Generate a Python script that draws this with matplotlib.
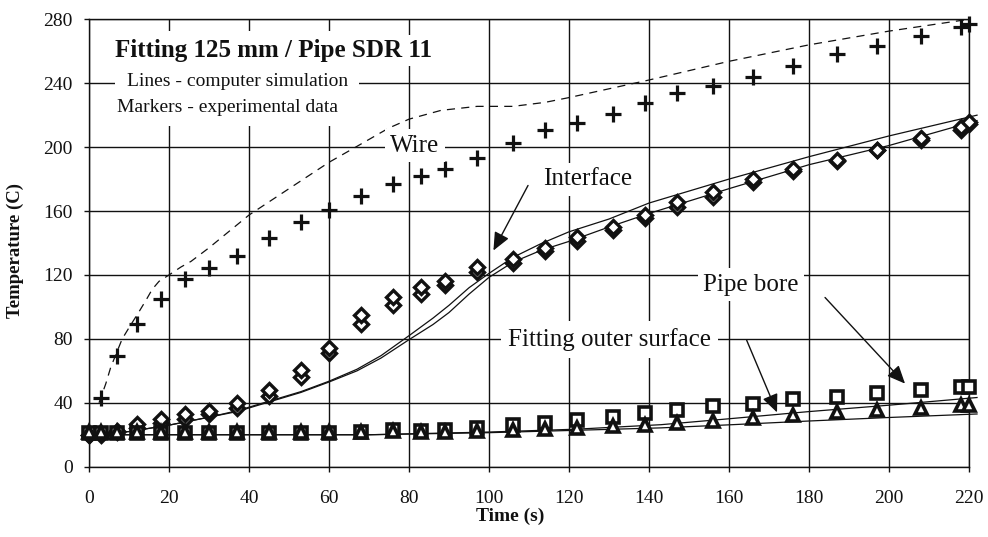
import matplotlib
matplotlib.use("Agg")
import matplotlib.pyplot as plt
from matplotlib.patches import Rectangle

# ---------------- data ----------------
times_exp = [0, 3, 7, 12, 18, 24, 30, 37, 45, 53, 60, 68, 76, 83, 89, 97,
             106, 114, 122, 131, 139, 147, 156, 166, 176, 187, 197, 208, 218, 220]

wire_exp_time = times_exp[1:]
wire_exp = [43, 69, 89.5, 104.8, 117.5, 124.6, 131.6, 143.4, 153.3, 160.6, 169.5,
            177, 182, 186, 193.3, 202.5, 211, 215, 221, 227.8, 234, 238.5, 243.6,
            251, 258, 263, 269.5, 275, 276.8]

interface_exp_a = [20, 20.5, 22.5, 26.5, 29.6, 32.7, 35, 40, 48.3, 60.5, 74, 95,
                   106.5, 112.5, 116.5, 125, 130, 137, 143.6, 150.3, 157.8, 165.5,
                   171.8, 180, 186, 192, 198.5, 205.5, 212.5, 215.6]
interface_exp_b = [20, 20, 21.5, 24.5, 27.5, 30, 32.7, 36.9, 44.5, 56.4, 71, 89.5,
                   101.5, 107.8, 114, 122, 127.5, 135, 141.5, 148, 155.5, 162.5,
                   169, 178, 185, 191, 198, 204.5, 210.5, 214.5]

pipe_exp = [21, 21, 21, 21, 21, 21, 21, 21, 21, 21, 21.2, 21.5, 23, 22.6, 23, 24,
            25.9, 27.5, 29.2, 31.4, 33.5, 35.6, 37.9, 39.5, 42.3, 43.9, 46, 47.7, 50, 50]
fitting_exp = [21.5, 21.5, 21.5, 21.5, 21.5, 21.5, 21.5, 21.5, 21.5, 21.5, 21.5, 21.8,
               22.6, 22, 22, 22.2, 22.8, 23.4, 24.4, 25.6, 26, 27.4, 28.5, 30.3, 32.6,
               34.1, 35.3, 36.6, 38.5, 38.5]

interface_sim_time = [0, 10, 20, 30, 37, 45, 53, 60, 67, 73, 80, 86, 90, 95, 100,
                      106, 113, 120, 130, 140, 160, 180, 200, 222]
interface_sim_a = [20, 22, 26, 31, 35, 41, 47, 53.5, 61, 69.5, 82, 93, 101, 112, 121,
                   131, 139.6, 147, 155, 165, 180, 194, 207, 220]
interface_sim_b = [20, 22, 26, 31, 34.5, 40.5, 46.5, 53, 60, 68, 79.5, 89, 96.5, 108,
                   118.5, 128, 135.4, 141, 150, 158.5, 174, 189, 201, 216.6]

wire_sim_time = [2.5, 4.2, 5.4, 7, 8.3, 10, 12.5, 14.2, 15.8, 17.5, 20, 23, 25.5, 30,
                 40, 50, 60, 67, 75, 80, 88, 97, 106, 114, 120, 140, 160, 180, 200, 220]
wire_sim = [40, 52, 62, 72, 80, 87, 97, 104, 111, 116, 120, 125, 128.5, 137, 157.5,
            174, 190.5, 200.5, 212, 217.5, 223, 225.5, 225.5, 228, 231, 242, 253.7,
            264, 272.6, 280]

pipe_sim_time = [0, 40, 70, 100, 122, 143, 160, 180, 200, 222]
pipe_sim = [20, 20, 20, 21.7, 23.5, 26.3, 30, 34.5, 38.5, 43.3]
fitting_sim = [20, 20, 20, 21.3, 22.8, 24.3, 26.2, 28.6, 30.8, 33]

x_ticks = list(range(0, 221, 20))
y_ticks = list(range(0, 281, 40))

# ---------------- figure ----------------
plt.rcParams['font.family'] = ['Liberation Serif', 'DejaVu Serif']
INK = '#111111'

fig = plt.figure(figsize=(9.88, 5.37), dpi=100)
ax = fig.add_axes([0.0901, 0.1309, 0.8907, 0.8332])
ax.set_xlim(0, 220)
ax.set_ylim(0, 280)
ax.set_xticks(x_ticks)
ax.set_yticks(y_ticks)
ax.set_axisbelow(True)
ax.grid(True, color=INK, lw=1.0)
for s in ax.spines.values():
    s.set_color(INK)
    s.set_linewidth(1.0)
ax.tick_params(axis='both', direction='out', length=3.6, width=1.0, colors=INK,
               labelsize=14)
ax.tick_params(axis='x', pad=13)
ax.tick_params(axis='y', pad=8)

# simulation lines
ax.plot(wire_sim_time, wire_sim, color=INK, lw=0.9, dashes=(6.5, 5), zorder=2,
        clip_on=False)
ax.plot(interface_sim_time, interface_sim_a, color=INK, lw=0.9, zorder=2, clip_on=False)
ax.plot(interface_sim_time, interface_sim_b, color=INK, lw=0.9, zorder=2, clip_on=False)
ax.plot(pipe_sim_time, pipe_sim, color=INK, lw=0.9, zorder=2, clip_on=False)
ax.plot(pipe_sim_time, fitting_sim, color=INK, lw=0.9, zorder=2, clip_on=False)

# experimental markers
ax.plot(wire_exp_time, wire_exp, ls='none', marker='+', ms=11, mew=2.3, color=INK,
        zorder=3, clip_on=False)
ax.plot(times_exp, interface_exp_b, ls='none', marker='D', ms=7, mew=2.4, mfc='white',
        mec=INK, zorder=3, clip_on=False)
ax.plot(times_exp, interface_exp_a, ls='none', marker='D', ms=7, mew=2.4, mfc='white',
        mec=INK, zorder=3, clip_on=False)
ax.plot(times_exp, pipe_exp, ls='none', marker='s', ms=8.5, mew=2.6, mfc='white',
        mec=INK, zorder=3, clip_on=False)
ax.plot(times_exp, fitting_exp, ls='none', marker='^', ms=8, mew=2.6, mfc='white',
        mec=INK, zorder=3.1, clip_on=False)

# white block behind header notes
ax.add_patch(Rectangle((6.5, 213.5), 61, 59, facecolor='white', edgecolor='none',
                       zorder=1.5))

wbox = dict(facecolor='white', edgecolor='none', pad=3)
ax.text(6.5, 256.3, 'Fitting 125 mm / Pipe SDR 11', fontsize=18, fontweight='bold',
        ha='left', va='baseline', color=INK, zorder=5, bbox=wbox)
ax.text(9.5, 238.4, 'Lines - computer simulation', fontsize=14, ha='left',
        va='baseline', color=INK, zorder=5,
        bbox=dict(facecolor='white', edgecolor='none', pad=5))
ax.text(7, 221.7, 'Markers - experimental data', fontsize=14, ha='left',
        va='baseline', color=INK, zorder=5)

lbox = dict(facecolor='white', edgecolor='none', pad=4)
ax.text(75.25, 197, 'Wire', fontsize=18, ha='left', va='baseline', color=INK,
        zorder=5, bbox=lbox)
ax.text(113.5, 176, 'Interface', fontsize=18, ha='left', va='baseline', color=INK,
        zorder=5, bbox=lbox)
ax.text(153.5, 110, 'Pipe bore', fontsize=18, ha='left', va='baseline', color=INK,
        zorder=5, bbox=lbox)
ax.text(104.75, 75.6, 'Fitting outer surface', fontsize=18, ha='left', va='baseline',
        color=INK, zorder=5, bbox=dict(facecolor='white', edgecolor='none', pad=5))

arrow = dict(arrowstyle='-|>,head_length=0.5,head_width=0.22', color=INK, lw=1.0,
             mutation_scale=22, shrinkA=0, shrinkB=0)
ax.annotate('', xy=(101.1, 135.3), xytext=(109.75, 176), arrowprops=arrow, zorder=6)
ax.annotate('', xy=(204, 52), xytext=(184, 105.9), arrowprops=arrow, zorder=6)
ax.annotate('', xy=(172, 34), xytext=(164.4, 79.2), arrowprops=arrow, zorder=6)

fig.text(510 / 988, 1 - 521 / 537, 'Time (s)', fontsize=14, fontweight='bold',
         ha='center', va='baseline', color=INK)
fig.text(15.5 / 988, 1 - 250 / 537, 'Temperature (C)', fontsize=13.5, fontweight='bold',
         ha='center', va='center', rotation=90, color=INK)

fig.savefig('out.png', dpi=100, facecolor='white')
